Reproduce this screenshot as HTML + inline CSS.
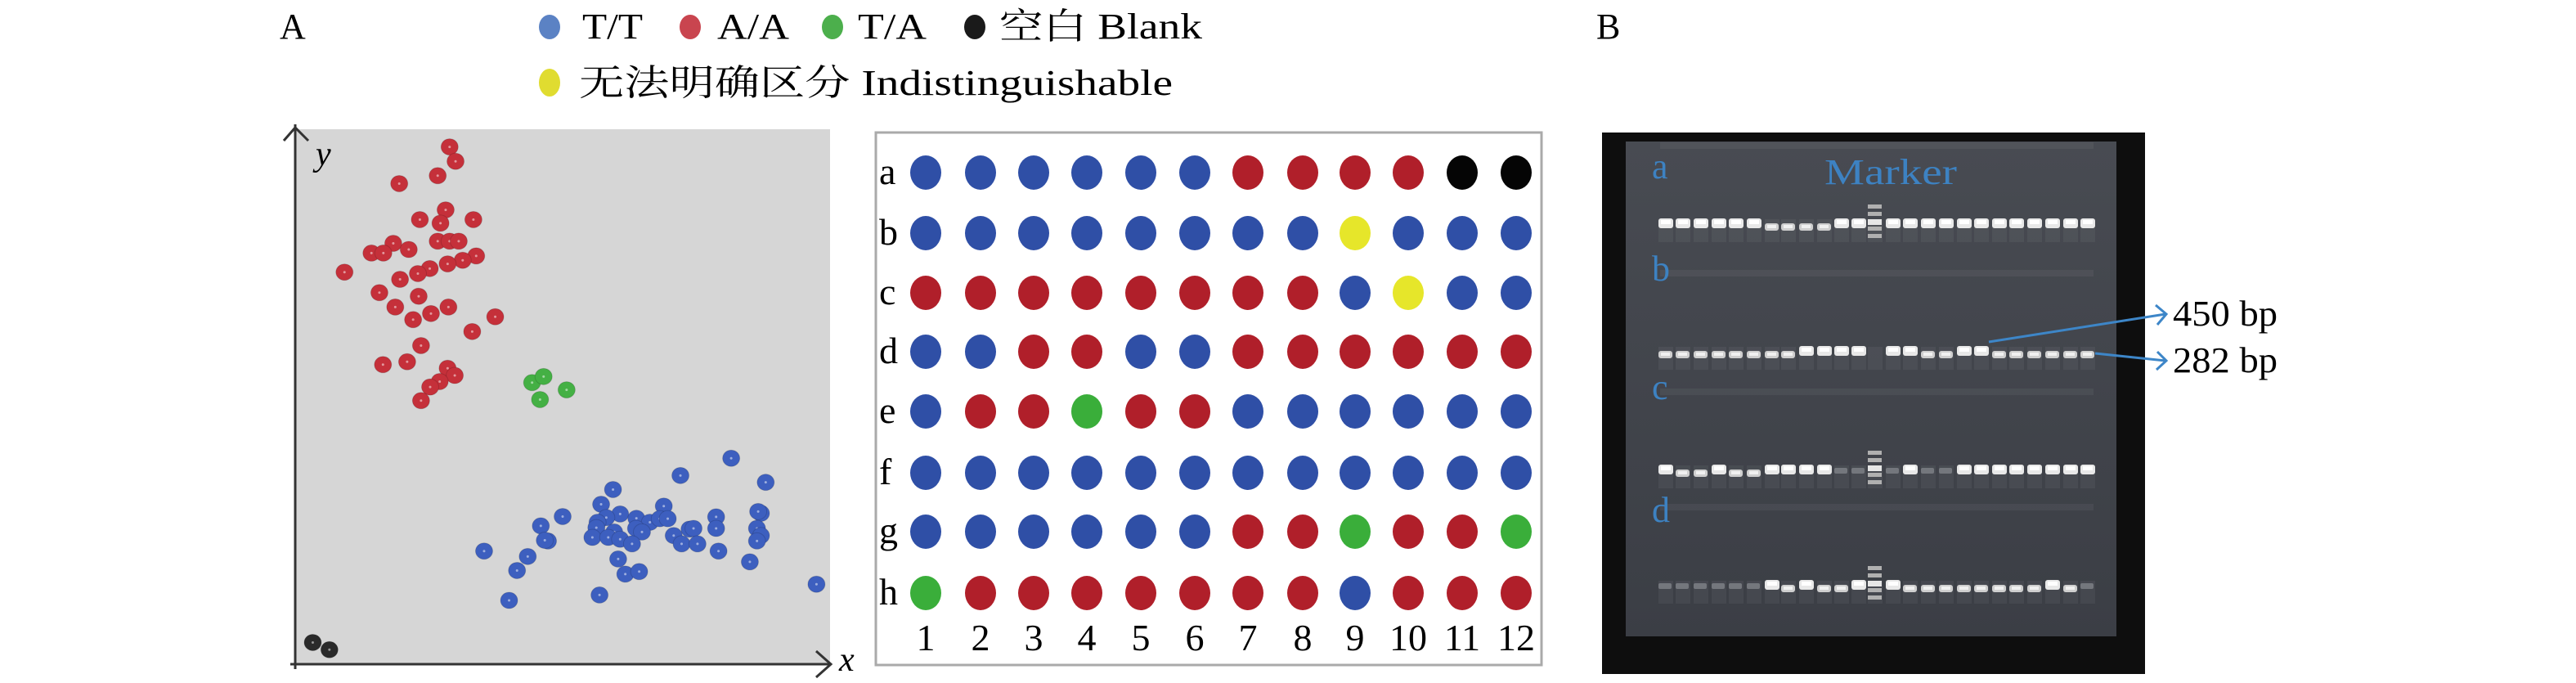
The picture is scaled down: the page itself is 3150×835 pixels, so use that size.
<!DOCTYPE html>
<html><head><meta charset="utf-8">
<style>html,body{margin:0;padding:0;background:#fff;}svg{display:block;}</style>
</head><body>
<svg id="s" width="3150" height="835" viewBox="0 0 3150 835" xmlns="http://www.w3.org/2000/svg" font-family="'Liberation Serif','Noto Serif CJK SC','Noto Sans CJK SC',serif">
<rect width="3150" height="835" fill="#fff"/>
<text x="342" y="47" font-size="44">A</text>
<text x="1952" y="47" font-size="44">B</text>
<ellipse cx="672" cy="33" rx="13" ry="15" fill="#5b82c4"/>
<text x="712" y="47" font-size="44" textLength="74" lengthAdjust="spacingAndGlyphs">T/T</text>
<ellipse cx="844" cy="33" rx="13" ry="15" fill="#c9454f"/>
<text x="877" y="47" font-size="44" textLength="88" lengthAdjust="spacingAndGlyphs">A/A</text>
<ellipse cx="1018" cy="33" rx="13" ry="15" fill="#4caf4c"/>
<text x="1049" y="47" font-size="44" textLength="84" lengthAdjust="spacingAndGlyphs">T/A</text>
<ellipse cx="1192" cy="33" rx="13" ry="15" fill="#1a1a1a"/>
<text x="1222" y="47" font-size="44" textLength="248" lengthAdjust="spacingAndGlyphs">空白 Blank</text>
<ellipse cx="672" cy="101" rx="13" ry="17" fill="#e0dc30"/>
<text x="708" y="116" font-size="44" textLength="726" lengthAdjust="spacingAndGlyphs">无法明确区分 Indistinguishable</text>

<rect x="361" y="158" width="654" height="654" fill="#d6d6d6"/>
<line x1="361" y1="152" x2="361" y2="818" stroke="#333" stroke-width="3"/>
<line x1="355" y1="812" x2="1016" y2="812" stroke="#333" stroke-width="3"/>
<polyline points="347,172 361,156 377,172" fill="none" stroke="#333" stroke-width="3"/>
<polyline points="998,796 1016,812 998,828" fill="none" stroke="#333" stroke-width="3"/>
<text x="386" y="202" font-size="42" font-style="italic">y</text>
<text x="1026" y="820" font-size="42" font-style="italic">x</text>
<g id="pts"></g>

<rect x="1071" y="162" width="814" height="651" fill="#fff" stroke="#aaa" stroke-width="3"/>
<g id="plate" font-size="46"></g>

<rect x="1959" y="162" width="664" height="662" fill="#0e0e0e"/>
<defs>
<linearGradient id="gg" x1="0" y1="0" x2="0" y2="1">
<stop offset="0" stop-color="#484b52"/><stop offset="1" stop-color="#3b3e45"/>
</linearGradient>
</defs>
<rect x="1988" y="173" width="600" height="605" fill="url(#gg)"/>
<g id="gel"></g>
<g fill="#3d82c2" font-size="44" font-family="'Liberation Serif',serif">
<text x="2020" y="218">a</text>
<text x="2020" y="343">b</text>
<text x="2020" y="488">c</text>
<text x="2020" y="638">d</text>
<text x="2231" y="225" textLength="162" lengthAdjust="spacingAndGlyphs">Marker</text>
</g>
<g stroke="#3d86c8" stroke-width="3" fill="none">
<line x1="2432" y1="418" x2="2648" y2="384"/>
<polyline points="2636,373 2649,384 2638,397"/>
<line x1="2562" y1="432" x2="2648" y2="441"/>
<polyline points="2638,430 2649,441 2637,452"/>
</g>
<text x="2657" y="398" font-size="44" textLength="128" lengthAdjust="spacingAndGlyphs">450 bp</text>
<text x="2657" y="455" font-size="44" textLength="128" lengthAdjust="spacingAndGlyphs">282 bp</text>

<script>
(function(){
var NS="http://www.w3.org/2000/svg";
function el(t,a,p){var e=document.createElementNS(NS,t);for(var k in a)e.setAttribute(k,a[k]);p.appendChild(e);return e;}
var pts=document.getElementById("pts");
function P(list,fill){list.forEach(function(q){var x=300+q[0]*0.485,y=140+q[1]*0.44;
el("ellipse",{cx:x,cy:y,rx:10.5,ry:10,fill:fill,stroke:"rgba(0,0,0,0.15)","stroke-width":1},pts);
el("circle",{cx:x,cy:y,r:1.5,fill:"rgba(255,255,255,0.5)"},pts);});}
P([[515,90],[530,130],[485,170],[388,192],[505,265],[440,292],[492,302],[575,292],[373,358],[485,352],[515,352],[538,352],[318,385],[348,385],[412,375],[582,393],[548,405],[510,415],[465,428],[435,442],[250,438],[390,458],[338,495],[437,505],[512,535],[378,535],[468,553],[423,570],[630,562],[572,603],[443,642],[347,695],[408,687],[510,705],[528,725],[490,742],[466,757],[443,795]],"#c5303a");
P([[723,745],[752,728],[810,765],[743,792]],"#44b044");
P([[1225,955],[1097,1003],[1312,1022],[927,1042],[897,1083],[1055,1088],[945,1110],[800,1117],[910,1120],[888,1133],[986,1122],[1020,1133],[1045,1123],[1065,1123],[1187,1118],[1300,1108],[1293,1103],[745,1143],[885,1148],[930,1160],[985,1150],[1000,1160],[1120,1152],[1130,1150],[1187,1150],[1290,1150],[875,1175],[915,1175],[945,1180],[975,1193],[1080,1170],[1300,1170],[1290,1185],[763,1185],[755,1183],[1100,1193],[1140,1193],[602,1213],[712,1228],[1193,1213],[940,1235],[1272,1243],[685,1267],[958,1277],[993,1270],[1440,1305],[665,1350],[893,1335]],"#3d5fbf");
P([[170,1467],[212,1487]],"#2a2a2a");

var plate=document.getElementById("plate");
var C={B:"#2f4fa6",R:"#b01f2a",G:"#3aae3a",Y:"#e6e62a",K:"#050505"};
var rows=["BBBBBBRRRRKK","BBBBBBBBYBBB","RRRRRRRRBYBB","BBRRBBRRRRRR","BRRGRRBBBBBB","BBBBBBBBBBBB","BBBBBBRRGRRG","GRRRRRRRBRRR"];
var ry=[211,285,358,430,503,578,650,725];
var cx=[1132,1199,1264,1329,1395,1461,1526,1593,1657,1722,1788,1854];
var lab="abcdefgh";
for(var r=0;r<8;r++){
 var t=el("text",{x:1075,y:ry[r]+14},plate);t.textContent=lab[r];
 for(var c=0;c<12;c++){el("ellipse",{cx:cx[c],cy:ry[r],rx:19,ry:21,fill:C[rows[r][c]]},plate);}
}
for(var c=0;c<12;c++){var t=el("text",{x:cx[c],y:795,"text-anchor":"middle"},plate);t.textContent=String(c+1);}

var gel=document.getElementById("gel");
var lx=[2037,2058,2080,2102,2123,2145,2167,2187,2209,2231,2252,2273,2293,2315,2336,2358,2380,2402,2423,2445,2466,2488,2510,2532,2553];
var gr=[
 ["HHHHHHLLLLHHMHHHHHHHHHHHH",274],
 ["LLLLLLLLHHHH0HHLLHHLLLLLL",430],
 ["HLLHLLHHHHFFMFHFFHHHHHHHH",575],
 ["FFFFFFHLHLLHMHLLLLLLLLHLF",716]];
gr.forEach(function(g){var s=g[0],y=g[1];
 el("rect",{x:2030,y:y-100,width:530,height:8,fill:"rgba(255,255,255,0.05)"},gel);
 for(var i=0;i<25;i++){var ch=s[i],x=lx[i]-9;
  el("rect",{x:x,y:y-6,width:18,height:28,fill:"rgba(255,255,255,0.05)"},gel);
  if(ch=="H"){el("rect",{x:x,y:y-7,width:18,height:12,rx:3,fill:"#e8e8e8"},gel);el("rect",{x:x+3,y:y-5,width:12,height:5,fill:"#ffffff"},gel);}
  else if(ch=="L"){el("rect",{x:x,y:y-1,width:17,height:9,rx:3,fill:"#cfcfcf"},gel);el("rect",{x:x+3,y:y+1,width:11,height:4,fill:"#f0f0f0"},gel);}
  else if(ch=="F")el("rect",{x:x,y:y-3,width:16,height:7,rx:2,fill:"#74777d"},gel);
  else if(ch=="M"){[-24,-15,-6,3,12].forEach(function(d,k){el("rect",{x:x,y:y+d,width:17,height:k==2?7:5,fill:k==2?"#e6e6e6":"#b0b0b0"},gel);});}
 }
});
})();
</script>
</svg>
</body></html>
